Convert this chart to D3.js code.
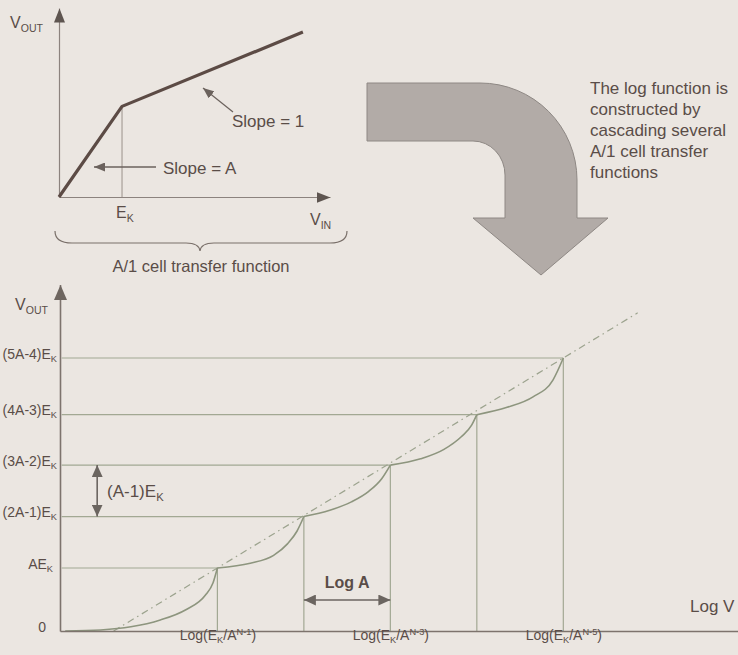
<!DOCTYPE html>
<html>
<head>
<meta charset="utf-8">
<script src="https://cdn.jsdelivr.net/npm/d3@7"></script>
<style>
  body { margin: 0; background: #ebe6e1; }
  text { font-family: "Liberation Sans", Arial, sans-serif; fill: #5a4d48; }
</style>
</head>
<body>
<div id="chart"></div>
<script>
// ---- top panel: A/1 cell transfer function (V_IN in E_K units) ----
var cellVin  = [0, 1, 3.87];
var cellVout = [0, 3.5, 6.37];

// ---- bottom panel: cascaded cells, x in Log A steps, y in E_K units ----
var levelValues = [0, 6, 10.9, 15.8, 20.6, 26];
var levelLabels = [
  [["0"]],
  [["AE"], ["K", "sub"]],
  [["(2A-1)E"], ["K", "sub"]],
  [["(3A-2)E"], ["K", "sub"]],
  [["(4A-3)E"], ["K", "sub"]],
  [["(5A-4)E"], ["K", "sub"]]
];
var breakX = [1, 2, 3, 4, 5];
var tickX = [1, 3, 5];
var tickPowers = ["N-1", "N-3", "N-5"];

// each cell's piece of the output curve
var curveSegments = [
  [[-0.76, 0], [-0.35, 0.1], [0, 0.4], [0.34, 1.05], [0.63, 2.0], [0.86, 3.4], [0.95, 4.6], [1, 6]],
  [[1, 6], [1.38, 6.45], [1.65, 7.2], [1.81, 8.3], [1.92, 9.5], [2, 10.9]],
  [[2, 10.9], [2.3, 11.5], [2.55, 12.3], [2.75, 13.3], [2.9, 14.5], [3, 15.8]],
  [[3, 15.8], [3.35, 16.4], [3.62, 17.3], [3.82, 18.5], [3.94, 19.6], [4, 20.6]],
  [[4, 20.6], [4.35, 21.3], [4.65, 22.3], [4.88, 23.9], [5, 26]]
];
// ideal log line (dash-dot)
var idealLine = [[-0.2, 0], [5.86, 30.3]];

var W = 738, H = 655;
var ink = "#5a4d48", green = "#8d957e";

var svg = d3.select("#chart").append("svg")
  .attr("width", W).attr("height", H);

svg.append("rect").attr("width", W).attr("height", H).attr("fill", "#ebe6e1");

// arrow heads
var defs = svg.append("defs");
function marker(id, len, half, color) {
  defs.append("marker")
    .attr("id", id)
    .attr("markerUnits", "userSpaceOnUse")
    .attr("viewBox", "0 0 " + len + " " + (half * 2))
    .attr("markerWidth", len).attr("markerHeight", half * 2)
    .attr("refX", len).attr("refY", half)
    .attr("orient", "auto-start-reverse")
    .append("path")
    .attr("d", "M0,0L" + len + "," + half + "L0," + (half * 2) + "Z")
    .attr("fill", color);
}
marker("axisHead", 14, 5.5, "#5e5550");
marker("bigHead", 15, 6.5, "#6e6660");
marker("smallHead", 11, 4.5, "#6b625d");
marker("dimHead", 12, 5.5, "#6b6560");

// text with sub/superscripts
function richText(g, x, y, parts, size, anchor, weight) {
  var t = g.append("text")
    .attr("x", x).attr("y", y)
    .attr("text-anchor", anchor || "start")
    .style("font-size", size + "px");
  if (weight) t.style("font-weight", weight);
  fillParts(t, parts, size);
  return t;
}
function fillParts(t, parts, size) {
  var shift = 0;
  parts.forEach(function(p) {
    var mode = p[1] || "";
    var target = mode === "sub" ? size * 0.22 : mode === "sup" ? -size * 0.38 : 0;
    t.append("tspan")
      .attr("dy", target - shift)
      .style("font-size", mode ? (size * 0.66) + "px" : null)
      .text(p[0]);
    shift = target;
  });
}

// ================= top panel =================
var xTop = d3.scaleLinear().domain([0, 4.3]).range([59, 330]);
var yTop = d3.scaleLinear().domain([0, 7.3]).range([197, 8]);
var cellPanel = svg.append("g");

var topX = cellPanel.append("g")
  .attr("transform", "translate(0," + yTop(0) + ")")
  .call(d3.axisBottom(xTop).tickValues([]).tickSizeOuter(0));
var topY = cellPanel.append("g")
  .attr("transform", "translate(" + xTop(0) + ",0)")
  .call(d3.axisLeft(yTop).tickValues([]).tickSizeOuter(0));
[topX, topY].forEach(function(a) {
  a.select(".domain").attr("stroke", "#8c837e").attr("stroke-width", 1.2)
    .attr("marker-end", "url(#axisHead)");
});

// knee drop line
cellPanel.append("line")
  .attr("x1", xTop(cellVin[1])).attr("x2", xTop(cellVin[1]))
  .attr("y1", yTop(cellVout[1])).attr("y2", yTop(0))
  .attr("stroke", "#9a918b").attr("stroke-width", 1);

cellPanel.append("path")
  .datum(d3.zip(cellVin, cellVout))
  .attr("d", d3.line().x(function(d) { return xTop(d[0]); }).y(function(d) { return yTop(d[1]); }))
  .attr("fill", "none").attr("stroke", "#5c4b45").attr("stroke-width", 3.2)
  .attr("stroke-linejoin", "round");

richText(cellPanel, 10, 28, [["V"], ["OUT", "sub"]], 16);
richText(cellPanel, xTop(1) - 6, 218, [["E"], ["K", "sub"]], 16);
richText(cellPanel, 310, 225, [["V"], ["IN", "sub"]], 16);

// slope annotations
cellPanel.append("line")
  .attr("x1", 233).attr("y1", 112).attr("x2", 203).attr("y2", 88)
  .attr("stroke", "#6b625d").attr("stroke-width", 1.3)
  .attr("marker-end", "url(#smallHead)");
richText(cellPanel, 232, 127, [["Slope = 1"]], 17);

cellPanel.append("line")
  .attr("x1", 156).attr("y1", 167).attr("x2", 94).attr("y2", 167)
  .attr("stroke", "#6b625d").attr("stroke-width", 1.3)
  .attr("marker-end", "url(#smallHead)");
richText(cellPanel, 163, 174, [["Slope = A"]], 17);

// brace under the panel
cellPanel.append("path")
  .attr("d", "M55,231 Q55,243 72,243 L186,243 Q199,243 200,251 Q201,243 214,243 L330,243 Q347,243 347,231")
  .attr("fill", "none").attr("stroke", "#7a706a").attr("stroke-width", 1.2);
richText(cellPanel, 201, 272, [["A/1 cell transfer function"]], 16.5, "middle");

// ================= curved arrow + note =================
svg.append("path")
  .attr("d", "M367,83 L480,83 A97,97 0 0 1 577,180 L577,218 L608,218 L541,275 L473,218 L505,218 L505,175 A32,34 0 0 0 473,141 L367,141 Z")
  .attr("fill", "#b2aba7").attr("stroke", "#8e8884").attr("stroke-width", 1);

var note = ["The log function is", "constructed by", "cascading several", "A/1 cell transfer", "functions"];
svg.append("g").selectAll("text").data(note).join("text")
  .attr("x", 590).attr("y", function(d, i) { return 94 + i * 21; })
  .style("font-size", "17px")
  .text(function(d) { return d; });

// ================= bottom panel =================
var x = d3.scaleLinear().domain([-0.82, 7.02]).range([60, 738]);
var y = d3.scaleLinear().domain([0, 33]).range([631, 284.5]);
var bot = svg.append("g");

// level lines and drop lines
bot.append("g").selectAll("line").data(breakX).join("line")
  .attr("x1", x(-0.8)).attr("x2", function(d) { return x(d); })
  .attr("y1", function(d, i) { return y(levelValues[i + 1]); })
  .attr("y2", function(d, i) { return y(levelValues[i + 1]); })
  .attr("stroke", "#a2a893").attr("stroke-width", 1.2);
bot.append("g").selectAll("line").data(breakX).join("line")
  .attr("x1", function(d) { return x(d); }).attr("x2", function(d) { return x(d); })
  .attr("y1", function(d, i) { return y(levelValues[i + 1]); })
  .attr("y2", y(0))
  .attr("stroke", "#a2a893").attr("stroke-width", 1.2);

var line = d3.line()
  .x(function(d) { return x(d[0]); })
  .y(function(d) { return y(d[1]); });

bot.append("path").datum(idealLine)
  .attr("d", line)
  .attr("fill", "none").attr("stroke", "#9ca38e").attr("stroke-width", 1.2)
  .attr("stroke-dasharray", "7,4,1.5,4");

bot.append("g").selectAll("path").data(curveSegments).join("path")
  .attr("d", line.curve(d3.curveMonotoneX))
  .attr("fill", "none").attr("stroke", green).attr("stroke-width", 1.6);

// axes
var yAxis = bot.append("g")
  .attr("transform", "translate(" + x(-0.82) + ",0)")
  .call(d3.axisLeft(y).tickValues(levelValues).tickSize(0).tickSizeOuter(0).tickPadding(3).tickFormat(""));
yAxis.select(".domain").attr("stroke", "#7d736d").attr("stroke-width", 1.6)
  .attr("marker-end", "url(#bigHead)");
yAxis.selectAll(".tick text").each(function(d, i) {
  d3.select(this).attr("fill", ink).style("font-size", "14px")
    .style("font-family", "'Liberation Sans', Arial, sans-serif");
  fillParts(d3.select(this), levelLabels[i], 14);
});
yAxis.selectAll(".tick").filter(function(d) { return d === 0; }).select("text").attr("x", -14);
yAxis.selectAll(".tick").filter(function(d) { return d === levelValues[1]; }).select("text").attr("x", -7);

var xAxis = bot.append("g")
  .attr("transform", "translate(0," + y(0) + ")")
  .call(d3.axisBottom(x).tickValues(tickX).tickSize(0).tickSizeOuter(0).tickPadding(9).tickFormat(""));
xAxis.select(".domain").attr("stroke", "#7d736d").attr("stroke-width", 1.6);
xAxis.selectAll(".tick text").each(function(d, i) {
  d3.select(this).attr("fill", ink).style("font-size", "14px")
    .style("font-family", "'Liberation Sans', Arial, sans-serif");
  fillParts(d3.select(this), [["Log(E"], ["K", "sub"], ["/A"], [tickPowers[i], "sup"], [")"]], 14);
});

richText(bot, 15, 310, [["V"], ["OUT", "sub"]], 16);
richText(bot, 690, 612, [["Log V"]], 17);

// (A-1)E_K step dimension
bot.append("line")
  .attr("x1", x(-0.39)).attr("x2", x(-0.39))
  .attr("y1", y(levelValues[2])).attr("y2", y(levelValues[3]))
  .attr("stroke", "#6b6560").attr("stroke-width", 1.6)
  .attr("marker-start", "url(#dimHead)").attr("marker-end", "url(#dimHead)");
richText(bot, 107, 497, [["(A-1)E"], ["K", "sub"]], 17);

// Log A dimension
bot.append("line")
  .attr("x1", x(breakX[1])).attr("x2", x(breakX[2]))
  .attr("y1", y(2.95)).attr("y2", y(2.95))
  .attr("stroke", "#6b6560").attr("stroke-width", 1.6)
  .attr("marker-start", "url(#dimHead)").attr("marker-end", "url(#dimHead)");
richText(bot, (x(breakX[1]) + x(breakX[2])) / 2, 588, [["Log A"]], 16, "middle", "bold");
</script>
</body>
</html>
